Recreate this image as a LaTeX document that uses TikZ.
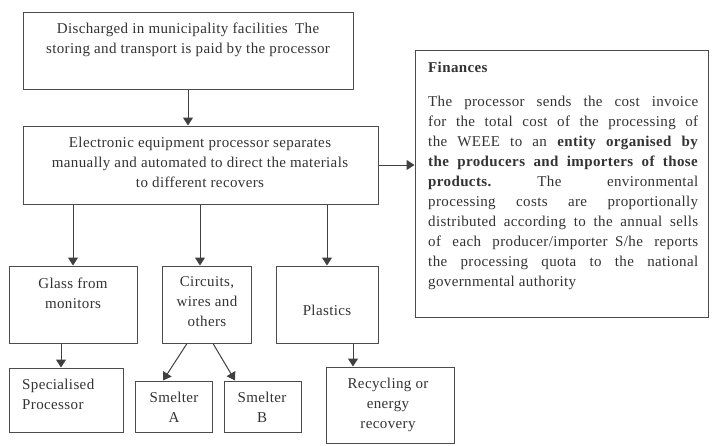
\documentclass[tikz,border=0pt]{standalone}
\usepackage{fontspec}
\setmainfont{Liberation Serif}[LetterSpace=2.5]
\usetikzlibrary{arrows.meta,calc}
\begin{document}
\begin{tikzpicture}[x=1pt,y=-1pt,
  box/.style={draw=black!70,line width=1pt,inner sep=0pt,fill=white},
  txt/.style={align=center,font=\fontsize{15}{20}\selectfont,text=black!80,inner sep=0pt},
  arr/.style={draw=black!75,line width=1pt,-{Triangle[width=10pt,length=8pt]}}]
\fill[white] (0,0) rectangle (714,445);
\useasboundingbox (0,0) rectangle (714,445);
% boxes
\node[box,minimum width=330pt,minimum height=77pt] (top) at (188,50.5) {};
\node[box,minimum width=355pt,minimum height=78pt] (proc) at (200.5,165) {};
\node[box,minimum width=293pt,minimum height=267pt] (fin) at (561.5,183.5) {};
\node[box,minimum width=128pt,minimum height=77pt] (glass) at (73,304.5) {};
\node[box,minimum width=89pt,minimum height=77pt] (circ) at (206.5,304.5) {};
\node[box,minimum width=102pt,minimum height=77pt] (plast) at (327,304.5) {};
\node[box,minimum width=114pt,minimum height=64pt] (spec) at (66,400) {};
\node[box,minimum width=77pt,minimum height=51pt] (smA) at (173.5,406.5) {};
\node[box,minimum width=77pt,minimum height=51pt] (smB) at (262.5,406.5) {};
\node[box,minimum width=128pt,minimum height=76pt] (recy) at (390,405) {};
% texts
\node[txt] (topt) at (188,40) {Discharged in municipality facilities\enspace The\\storing and transport is paid by the processor};
\node[txt] (proct) at (200,162) {Electronic equipment processor separates\\manually and automated to direct the materials\\to different recovers};
\node[txt] (glasst) at (73,293.5) {Glass from\\monitors};
\node[txt] (circt) at (207,302) {Circuits,\\wires and\\others};
\node[txt] (plastt) at (327,310) {Plastics};
\node[txt,align=left,anchor=west] (spect) at (22,394) {Specialised\\Processor};
\node[txt] (smAt) at (174,407) {Smelter\\A};
\node[txt] (smBt) at (262,407) {Smelter\\B};
\node[txt] (recyt) at (388,405) {Recycling or\\energy\\recovery};
\node[txt,anchor=west,font=\fontsize{15}{20}\selectfont\bfseries] (fint) at (428,67) {Finances};
\node[txt,anchor=north west,text width=270pt,align=justify] (finb) at (428,96) {The processor sends the cost invoice\linebreak
for the total cost of the processing of\linebreak
the WEEE to an \textbf{entity organised by}\linebreak
\textbf{the producers and importers of those}\linebreak
\textbf{products.}\hfill The\hfill environmental\linebreak
processing costs are proportionally\linebreak
distributed according to the annual sells\linebreak
of each producer/importer\enspace S/he reports\linebreak
the processing quota to the national\linebreak
governmental authority\par};
% arrows
\draw[arr] (top.south) -- (proc.north -| top.south);
\draw[arr] (proc.east) -- (proc.east -| fin.west);
\draw[arr] (proc.south -| glass.north) -- (glass.north);
\coordinate (c1) at ($(proc.south)+(-0.5,0)$);
\draw[arr] (c1) -- (c1 |- circ.north);
\draw[arr] (proc.south -| plast.north) -- (plast.north);
\coordinate (g1) at ($(glass.south)+(-12,0)$);
\draw[arr] (g1) -- (g1 |- spec.north);
\draw[arr] ($(circ.south)+(-19.5,0)$) -- ($(smA.north)+(-10.5,0)$);
\draw[arr] ($(circ.south)+(6.5,0)$) -- ($(smB.north)+(-27.5,0)$);
\coordinate (p1) at ($(plast.south)+(26,0)$);
\draw[arr] (p1) -- (p1 |- recy.north);
\end{tikzpicture}
\end{document}
